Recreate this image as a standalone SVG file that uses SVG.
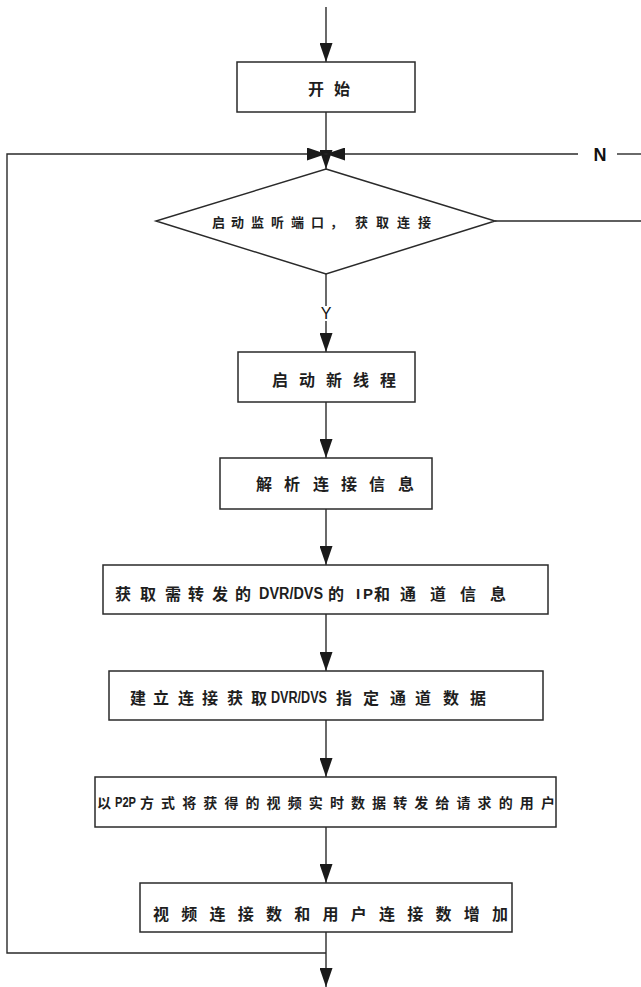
<svg xmlns="http://www.w3.org/2000/svg" width="641" height="987" viewBox="0 0 641 987">
<style>
.box{fill:#ffffff;stroke:#2a2a2a;stroke-width:1.5}
.ln{fill:none;stroke:#2a2a2a;stroke-width:1.4}
.t{font-family:"Noto Sans CJK SC","Noto Sans",sans-serif;font-weight:bold;fill:#1e1e1e;dominant-baseline:central}
.lat{font-family:"Liberation Sans","Noto Sans",sans-serif;font-weight:bold;fill:#1e1e1e;dominant-baseline:central}
.lbl{font-family:"Liberation Sans",sans-serif;fill:#111}
</style>
<defs>
<marker id="ah" viewBox="0 0 10 10" refX="10" refY="5" markerWidth="19" markerHeight="13" markerUnits="userSpaceOnUse" orient="auto" preserveAspectRatio="none">
<path d="M0,0 L10,5 L0,10 z" fill="#1a1a1a"/>
</marker>
</defs>
<rect width="641" height="987" fill="#ffffff"/>

<g id="connectors">
<path class="ln" d="M326,7 L326,62" marker-end="url(#ah)"/>
<path class="ln" d="M326,112 L326,169" marker-end="url(#ah)"/>
<path class="ln" d="M326,953 L7,953 L7,154 L326,154" marker-end="url(#ah)"/>
<path class="ln" d="M578,154 L326,154" marker-end="url(#ah)"/>
<path class="ln" d="M617,154 L641,154"/>
<path class="ln" d="M495,221 L641,221"/>
<path class="ln" d="M326,274 L326,306"/>
<path class="ln" d="M326,321 L326,352" marker-end="url(#ah)"/>
<path class="ln" d="M326,402 L326,458" marker-end="url(#ah)"/>
<path class="ln" d="M326,509 L326,565" marker-end="url(#ah)"/>
<path class="ln" d="M326,614 L326,671" marker-end="url(#ah)"/>
<path class="ln" d="M326,720 L326,777" marker-end="url(#ah)"/>
<path class="ln" d="M326,827 L326,883" marker-end="url(#ah)"/>
<path class="ln" d="M326,932 L326,987" marker-end="url(#ah)"/>
<text class="lbl" x="600" y="160.5" font-size="18" font-weight="bold" text-anchor="middle">N</text>
<text class="lbl" x="326" y="319" font-size="16" text-anchor="middle">Y</text>
</g>

<g id="start">
<rect class="box" x="237" y="62" width="178" height="50"/>
<text class="t" font-size="16" x="308 334" y="88">开始</text>
</g>

<g id="decision">
<polygon class="box" points="326,169 495,221 326,274 156,221"/>
<text class="t" font-size="13" x="212 231 251 271 291 311 330 355 376 397 418" y="221">启动监听端口，获取连接</text>
</g>

<g id="new-thread">
<rect class="box" x="238" y="352" width="177" height="50"/>
<text class="t" font-size="16" x="272 299 326 353 380" y="379">启动新线程</text>
</g>

<g id="parse">
<rect class="box" x="220" y="458" width="212" height="51"/>
<text class="t" font-size="16" x="256 284 313 341 369 398" y="483">解析连接信息</text>
</g>

<g id="get-info">
<rect class="box" x="103" y="565" width="445" height="49"/>
<text class="t" font-size="16" x="115 140 165 188 212 235" y="593">获取需转发的</text>
<text class="lat" font-size="16" x="259" y="593" textLength="64" lengthAdjust="spacingAndGlyphs">DVR/DVS</text>
<text class="t" font-size="16" x="328" y="593">的</text>
<text class="lat" font-size="15" x="356 363" y="593">IP</text>
<text class="t" font-size="16" x="374 400 430 460 490" y="593">和通道信息</text>
</g>

<g id="connect">
<rect class="box" x="109" y="671" width="434" height="49"/>
<text class="t" font-size="16" x="130 153 178 202 227 251" y="697">建立连接获取</text>
<text class="lat" font-size="16" x="271" y="697" textLength="56" lengthAdjust="spacingAndGlyphs">DVR/DVS</text>
<text class="t" font-size="16" x="336 363 390 415 443 470" y="697">指定通道数据</text>
</g>

<g id="forward">
<rect class="box" x="95" y="777" width="461" height="50"/>
<text class="t" font-size="14" x="97" y="802">以</text>
<text class="lat" font-size="14" x="115" y="802" textLength="21" lengthAdjust="spacingAndGlyphs">P2P</text>
<text class="t" font-size="14" x="140 161.1 182.2 203.3 224.4 245.5 266.6 287.7 308.8 329.9 351 372.1 393.2 414.3 435.4 456.5 477.6 498.7 519.8 541" y="802">方式将获得的视频实时数据转发给请求的用户</text>
</g>

<g id="increase">
<rect class="box" x="140" y="883" width="372" height="49"/>
<text class="t" font-size="16" x="153 181.3 209.5 237.8 266 294.3 322.5 350.8 379 407.3 435.5 463.8 492" y="913">视频连接数和用户连接数增加</text>
</g>
</svg>
